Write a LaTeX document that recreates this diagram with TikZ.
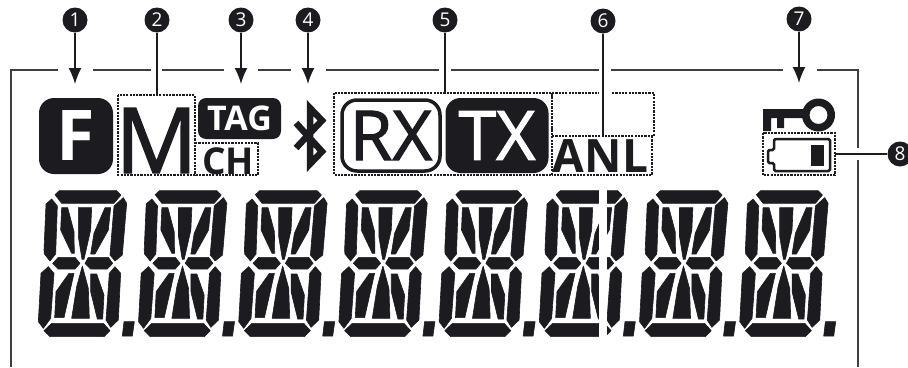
\documentclass[tikz,border=0pt]{standalone}
\usepackage{fontspec}
\setmainfont{Open Sans}
\newfontfamily\semifont[FakeBold=1.6]{Open Sans}
\usetikzlibrary{arrows.meta}
\definecolor{lcdblack}{HTML}{1C1B20}
\tikzset{
    badge/.style={circle, fill=lcdblack, text=white, inner sep=0pt, minimum size=25pt, font=\fontsize{19}{19}\selectfont},
    leader/.style={lcdblack, line width=1.6pt},
    pointer/.style={leader, -{Latex[length=16pt,width=13pt]}},
    frameline/.style={lcdblack!85, line width=1.5pt},
    dotbox/.style={lcdblack, line width=2.5pt, dash pattern=on 2.2pt off 1.1pt},
    flag/.style={fill=lcdblack, text=white, inner sep=0pt, rounded corners=15pt},
    lcdtext/.style={text=lcdblack, inner sep=0pt}
}
% one 16-segment digit, in units of 1/3 px
\newcommand{\lcddigit}{
    \filldraw (178,32) -- (350,32) -- (363,45) -- (342,70) -- (185,70) -- (165,44) -- cycle;
    \filldraw (155,57) -- (172,78) -- (167,222) -- (150,243) -- (133,222) -- (132,210) -- (138,72) -- cycle;
    \filldraw (370,53) -- (380,70) -- (367,225) -- (345,243) -- (330,225) -- (342,78) -- cycle;
    \filldraw (185,83) -- (203,83) -- (222,155) -- (223,220) -- (215,220) -- (182,150) -- cycle;
    \filldraw (235,83) -- (275,83) -- (272,150) -- (252,238) -- (246,238) -- (235,170) -- cycle;
    \filldraw (315,83) -- (332,83) -- (325,150) -- (285,222) -- (272,222) -- (282,160) -- cycle;
    \filldraw (175,232) -- (225,232) -- (240,250) -- (225,267) -- (175,267) -- (158,250) -- cycle;
    \filldraw (265,232) -- (325,232) -- (338,250) -- (322,267) -- (272,267) -- (255,250) -- cycle;
    \filldraw (145,260) -- (162,280) -- (152,415) -- (130,445) -- (115,425) -- (123,280) -- cycle;
    \filldraw (345,260) -- (362,280) -- (355,420) -- (332,442) -- (318,420) -- (328,280) -- cycle;
    \filldraw (207,280) -- (222,280) -- (192,413) -- (164,413) -- (168,335) -- cycle;
    \filldraw (247,258) -- (265,325) -- (268,415) -- (215,415) -- (230,320) -- cycle;
    \filldraw (272,282) -- (290,282) -- (312,345) -- (308,417) -- (292,417) -- (272,335) -- cycle;
    \filldraw (155,430) -- (310,430) -- (330,452) -- (312,470) -- (150,470) -- (132,452) -- cycle;
    \filldraw (372,425) -- (403,425) -- (397,468) -- (367,468) -- cycle;
}

\begin{document}
\begin{tikzpicture}[x=1pt,y=-1pt]
    \useasboundingbox (0,0) rectangle (908,367);
    % Frame
    \draw[frameline] (11,367) -- (11,70) -- (58,70);
    \foreach \xa/\xb in {93/151,162/224,258/291,326/439,451/599,611/783}
        \draw[frameline] (\xa,70) -- (\xb,70);
    \draw[frameline] (817,70) -- (858,70) -- (858,148);
    \draw[frameline] (858,160) -- (858,367);
    % Digits
    \foreach \i in {0,...,7}
        \begin{scope}[shift={({100.2*\i},180)},scale=1/3,fill=lcdblack,draw=lcdblack,line width=0.6pt,line join=round]
            \lcddigit
        \end{scope}
    \fill[white] (599,188) rectangle (607,338);
    % Indicators
    \node[flag, minimum width=74pt, minimum height=76pt, font=\fontsize{70}{70}\selectfont\bfseries] (fkey) at (76,136) {F};
    \node[lcdtext, font=\fontsize{91}{91}\selectfont\semifont] (mode) at (156.5,140.5) {M};
    \node[flag, rounded corners=8pt, minimum width=83pt, minimum height=41pt, font=\fontsize{34}{34}\selectfont\bfseries] (tag) at (239.5,118.5) {TAG};
    \node[lcdtext, font=\fontsize{37}{37}\selectfont\bfseries] (ch) at (228,161) {CH};
    \node[lcdtext, font=\fontsize{46}{46}\selectfont\bfseries] (anl) at (600.5,156.5) {ANL};
    \node[flag, draw=lcdblack, line width=3.5pt, fill=white, text=lcdblack, minimum width=98pt, minimum height=71pt, font=\fontsize{69}{69}\selectfont\semifont] (rx) at (391,135.5) {RX};
    \node[flag, minimum width=103pt, minimum height=75pt, font=\fontsize{68}{68}\selectfont\semifont] (tx) at (497,135.5) {TX};
    % Bluetooth
    \draw[lcdblack, line width=6.5pt, miter limit=10] (296,123) -- (322,151.5) -- (310,164) -- (310,108) -- (322,120.5) -- (296,148);
    % Key
    \fill[lcdblack] (763,109) -- (806,109) -- (806,118) -- (784,118) -- (784,128) -- (777,128) -- (777,118) -- (771,118) -- (771,131) -- (763,131) -- cycle;
    \fill[lcdblack, even odd rule] (818.5,115) circle[radius=16.5] (818.5,115) circle[radius=9];
    % Battery
    \draw[lcdblack, line width=2.5pt, rounded corners=1.5pt] (774,150) -- (774,139) -- (830,139) -- (830,171) -- (774,171) -- (774,163) -- (768,163) -- (768,150) -- cycle;
    \fill[lcdblack] (811,145) rectangle (824,166);
    % Dotted boxes
    \draw[dotbox] (118,95) rectangle (195,175);
    \draw[dotbox] (195,143) -- (258,143) -- (258,175) -- (195,175);
    \draw[dotbox] (334,93) rectangle (552,175);
    \draw[dotbox] (552,93) -- (599,93);
    \draw[dotbox] (612,93) -- (654,93) -- (654,136) -- (552,136) -- (552,93);
    \draw[dotbox] (652,136) -- (652,175) -- (552,175);
    \draw[dotbox, line width=2.8pt] (763,133) rectangle (835,175);
    % Callouts
    \node[badge] (n1) at (75,20) {1};
    \node[badge] (n2) at (157,20) {2};
    \node[badge] (n3) at (241,20) {3};
    \node[badge] (n4) at (308,20) {4};
    \node[badge] (n5) at (445,20) {5};
    \node[badge] (n6) at (603,21) {6};
    \node[badge] (n7) at (799,19) {7};
    \node[badge] (n8) at (900,154) {8};
    \coordinate (t1) at (75,84);
    \coordinate (t2) at (157,94);
    \coordinate (t3) at (241,84);
    \coordinate (t4) at (308,84);
    \coordinate (t5) at (445,93);
    \coordinate (t6) at (603,136);
    \coordinate (t7) at (799,83);
    \coordinate (t8) at (835,154);
    \draw[pointer] (n1) -- (t1);
    \draw[pointer] (n3) -- (t3);
    \draw[pointer] (n4) -- (t4);
    \draw[pointer] (n7) -- (t7);
    \draw[leader] (n2) -- (t2);
    \draw[leader] (n5) -- (t5);
    \draw[leader] (n6) -- (t6);
    \draw[leader] (n8) -- (t8);
\end{tikzpicture}
\end{document}
